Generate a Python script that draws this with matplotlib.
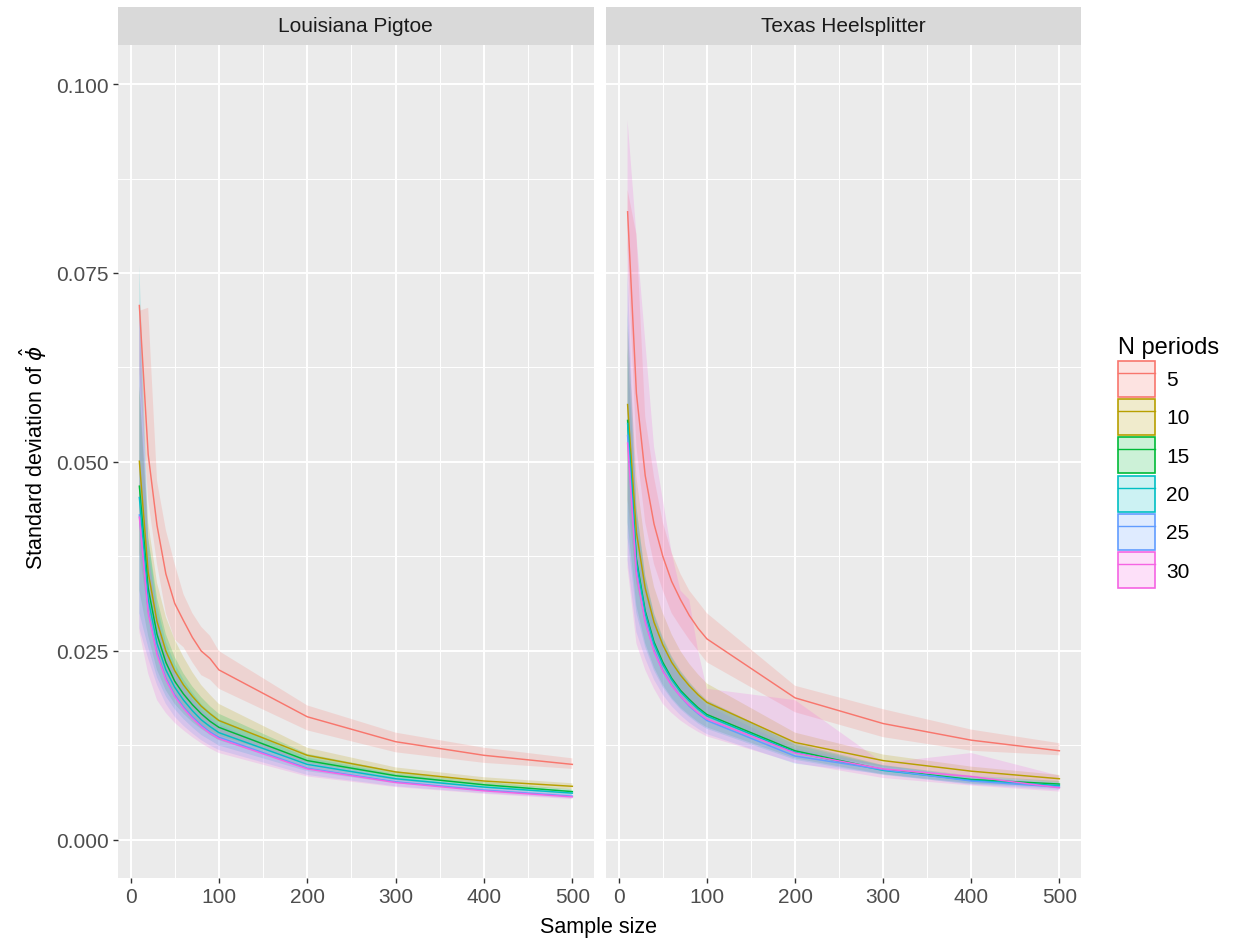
import matplotlib
matplotlib.use("Agg")
import matplotlib.pyplot as plt
from matplotlib.patches import Patch
from matplotlib.lines import Line2D
from matplotlib.ticker import FixedLocator
from matplotlib.colors import to_rgba

plt.rcParams['font.family'] = ['Liberation Sans', 'DejaVu Sans']
plt.rcParams['mathtext.fontset'] = 'dejavusans'

# ---------------- data ----------------
sample_size = [10, 20, 30, 40, 50, 60, 70, 80, 90, 100, 200, 300, 400, 500]
periods = [5, 10, 15, 20, 25, 30]
panels = ["Louisiana Pigtoe", "Texas Heelsplitter"]
colors = ["#F8766D", "#B79F00", "#00BA38", "#00BFC4", "#619CFF", "#F564E3"]

# Louisiana Pigtoe
lp_mean = {
    5:  [0.0707, 0.0510, 0.0416, 0.0352, 0.0313, 0.0290, 0.0268, 0.0250, 0.0240, 0.0225, 0.0163, 0.0130, 0.0112, 0.0100],
    10: [0.0501, 0.0354, 0.0289, 0.0250, 0.0224, 0.0205, 0.0190, 0.0177, 0.0167, 0.0158, 0.0112, 0.0090, 0.0078, 0.0071],
    15: [0.0468, 0.0333, 0.0272, 0.0235, 0.0210, 0.0193, 0.0179, 0.0167, 0.0157, 0.0149, 0.0105, 0.0085, 0.0073, 0.0064],
    20: [0.0453, 0.0319, 0.0260, 0.0225, 0.0202, 0.0185, 0.0171, 0.0159, 0.0150, 0.0142, 0.0100, 0.0081, 0.0070, 0.0062],
    25: [0.0430, 0.0303, 0.0248, 0.0214, 0.0192, 0.0176, 0.0163, 0.0152, 0.0143, 0.0136, 0.0095, 0.0077, 0.0066, 0.0058],
    30: [0.0427, 0.0300, 0.0245, 0.0212, 0.0190, 0.0174, 0.0161, 0.0150, 0.0141, 0.0134, 0.0094, 0.0076, 0.0065, 0.0057],
}
lp_lo = {
    5:  [0.0620, 0.0450, 0.0365, 0.0300, 0.0265, 0.0255, 0.0235, 0.0218, 0.0212, 0.0200, 0.0145, 0.0116, 0.0102, 0.0094],
    10: [0.0380, 0.0300, 0.0245, 0.0212, 0.0190, 0.0175, 0.0163, 0.0153, 0.0145, 0.0138, 0.0102, 0.0084, 0.0073, 0.0067],
    15: [0.0330, 0.0270, 0.0225, 0.0198, 0.0180, 0.0167, 0.0156, 0.0147, 0.0139, 0.0132, 0.0096, 0.0079, 0.0069, 0.0061],
    20: [0.0300, 0.0255, 0.0215, 0.0190, 0.0173, 0.0160, 0.0149, 0.0139, 0.0132, 0.0125, 0.0091, 0.0075, 0.0066, 0.0059],
    25: [0.0280, 0.0240, 0.0205, 0.0180, 0.0163, 0.0151, 0.0141, 0.0132, 0.0125, 0.0119, 0.0086, 0.0071, 0.0062, 0.0055],
    30: [0.0275, 0.0220, 0.0185, 0.0168, 0.0155, 0.0145, 0.0136, 0.0128, 0.0121, 0.0115, 0.0084, 0.0070, 0.0061, 0.0054],
}
lp_hi = {
    5:  [0.0700, 0.0704, 0.0475, 0.0410, 0.0365, 0.0325, 0.0300, 0.0282, 0.0270, 0.0250, 0.0178, 0.0142, 0.0122, 0.0108],
    10: [0.0600, 0.0420, 0.0340, 0.0295, 0.0265, 0.0242, 0.0222, 0.0205, 0.0192, 0.0180, 0.0122, 0.0096, 0.0083, 0.0075],
    15: [0.0600, 0.0400, 0.0320, 0.0272, 0.0242, 0.0220, 0.0203, 0.0189, 0.0177, 0.0167, 0.0114, 0.0091, 0.0077, 0.0067],
    20: [0.0761, 0.0400, 0.0310, 0.0262, 0.0233, 0.0212, 0.0195, 0.0180, 0.0169, 0.0160, 0.0109, 0.0087, 0.0074, 0.0065],
    25: [0.0700, 0.0385, 0.0300, 0.0252, 0.0224, 0.0203, 0.0187, 0.0173, 0.0162, 0.0153, 0.0104, 0.0083, 0.0070, 0.0061],
    30: [0.0710, 0.0380, 0.0298, 0.0250, 0.0222, 0.0201, 0.0185, 0.0171, 0.0160, 0.0151, 0.0103, 0.0082, 0.0069, 0.0060],
}

# Texas Heelsplitter
th_mean = {
    5:  [0.0831, 0.0591, 0.0482, 0.0418, 0.0375, 0.0342, 0.0318, 0.0297, 0.0280, 0.0266, 0.0188, 0.0154, 0.0132, 0.0118],
    10: [0.0576, 0.0407, 0.0333, 0.0288, 0.0258, 0.0235, 0.0218, 0.0204, 0.0192, 0.0182, 0.0129, 0.0105, 0.0091, 0.0081],
    15: [0.0555, 0.0372, 0.0303, 0.0262, 0.0235, 0.0214, 0.0198, 0.0186, 0.0175, 0.0166, 0.0118, 0.0093, 0.0080, 0.0074],
    20: [0.0551, 0.0368, 0.0300, 0.0259, 0.0232, 0.0212, 0.0196, 0.0184, 0.0173, 0.0164, 0.0116, 0.0092, 0.0079, 0.0072],
    25: [0.0535, 0.0355, 0.0290, 0.0251, 0.0224, 0.0205, 0.0190, 0.0177, 0.0167, 0.0158, 0.0111, 0.0093, 0.0078, 0.0070],
    30: [0.0525, 0.0352, 0.0288, 0.0249, 0.0223, 0.0204, 0.0190, 0.0178, 0.0168, 0.0160, 0.0115, 0.0094, 0.0084, 0.0069],
}
th_lo = {
    5:  [0.0780, 0.0520, 0.0420, 0.0365, 0.0330, 0.0300, 0.0282, 0.0265, 0.0250, 0.0235, 0.0169, 0.0136, 0.0118, 0.0112],
    10: [0.0450, 0.0340, 0.0285, 0.0250, 0.0225, 0.0206, 0.0192, 0.0180, 0.0170, 0.0162, 0.0117, 0.0097, 0.0085, 0.0076],
    15: [0.0420, 0.0310, 0.0260, 0.0228, 0.0205, 0.0188, 0.0175, 0.0165, 0.0156, 0.0149, 0.0108, 0.0087, 0.0075, 0.0070],
    20: [0.0400, 0.0300, 0.0255, 0.0224, 0.0202, 0.0186, 0.0173, 0.0163, 0.0154, 0.0147, 0.0106, 0.0086, 0.0074, 0.0068],
    25: [0.0370, 0.0275, 0.0240, 0.0212, 0.0192, 0.0177, 0.0165, 0.0155, 0.0147, 0.0140, 0.0101, 0.0087, 0.0073, 0.0066],
    30: [0.0360, 0.0260, 0.0225, 0.0200, 0.0180, 0.0168, 0.0158, 0.0150, 0.0143, 0.0137, 0.0102, 0.0082, 0.0072, 0.0064],
}
th_hi = {
    5:  [0.0860, 0.0801, 0.0560, 0.0480, 0.0420, 0.0380, 0.0352, 0.0330, 0.0315, 0.0300, 0.0204, 0.0173, 0.0146, 0.0128],
    10: [0.0680, 0.0480, 0.0390, 0.0335, 0.0300, 0.0272, 0.0250, 0.0233, 0.0219, 0.0207, 0.0142, 0.0113, 0.0097, 0.0086],
    15: [0.0650, 0.0440, 0.0350, 0.0300, 0.0268, 0.0243, 0.0224, 0.0209, 0.0196, 0.0185, 0.0128, 0.0099, 0.0085, 0.0078],
    20: [0.0700, 0.0440, 0.0348, 0.0298, 0.0265, 0.0241, 0.0222, 0.0207, 0.0194, 0.0183, 0.0126, 0.0098, 0.0084, 0.0076],
    25: [0.0750, 0.0430, 0.0340, 0.0290, 0.0257, 0.0234, 0.0216, 0.0201, 0.0189, 0.0178, 0.0121, 0.0099, 0.0083, 0.0074],
    30: [0.0952, 0.0800, 0.0660, 0.0520, 0.0450, 0.0380, 0.0330, 0.0318, 0.0250, 0.0200, 0.0185, 0.0102, 0.0115, 0.0085],
}

x_ticks = [0, 100, 200, 300, 400, 500]
y_ticks = [0.000, 0.025, 0.050, 0.075, 0.100]
y_tick_labels = ["0.000", "0.025", "0.050", "0.075", "0.100"]

# ---------------- figure ----------------
W, H = 1235, 945
fig = plt.figure(figsize=(W / 100, H / 100), dpi=100)
fig.patch.set_facecolor("white")

panel_px = [(117.7, 594.0), (606.0, 1081.0)]
top_px, bot_px = 46.0, 879.0
strip_top_px = 7.5

data_sets = [(lp_mean, lp_lo, lp_hi), (th_mean, th_lo, th_hi)]
tick_col = "#4D4D4D"

for i, (name, (mean_d, lo_d, hi_d)) in enumerate(zip(panels, data_sets)):
    x0, x1 = panel_px[i]
    ax = fig.add_axes([x0 / W, 1 - bot_px / H, (x1 - x0) / W, (bot_px - top_px) / H])
    ax.set_facecolor("#EBEBEB")
    for s in ax.spines.values():
        s.set_visible(False)
    ax.set_xlim(-14.5, 524.5)
    ax.set_ylim(-0.00503, 0.10516)
    ax.xaxis.set_major_locator(FixedLocator(x_ticks))
    ax.xaxis.set_minor_locator(FixedLocator([50, 150, 250, 350, 450]))
    ax.yaxis.set_major_locator(FixedLocator(y_ticks))
    ax.yaxis.set_minor_locator(FixedLocator([0.0125, 0.0375, 0.0625, 0.0875]))
    ax.grid(which="major", color="white", linewidth=1.4)
    ax.grid(which="minor", color="white", linewidth=0.7)
    ax.set_axisbelow(True)
    ax.tick_params(which="minor", length=0)
    ax.tick_params(which="major", length=3.5, width=1.0, color="#333333",
                   labelcolor=tick_col, labelsize=15, pad=3)
    ax.set_xticklabels([str(v) for v in x_ticks])
    if i == 0:
        ax.set_yticklabels(y_tick_labels)
    else:
        ax.tick_params(axis="y", labelleft=False, length=0)

    for p, c in zip(periods, colors):
        ax.fill_between(sample_size, lo_d[p], hi_d[p], facecolor=c, alpha=0.2,
                        linewidth=0, zorder=2)
    for p, c in zip(periods, colors):
        ax.plot(sample_size, mean_d[p], color=c, linewidth=1.05, zorder=3)

    # strip
    sax = fig.add_axes([x0 / W, 1 - top_px / H, (x1 - x0) / W, (top_px - strip_top_px) / H])
    sax.set_facecolor("#D9D9D9")
    sax.set_xticks([])
    sax.set_yticks([])
    for s in sax.spines.values():
        s.set_visible(False)
    sax.text(0.5, 0.5, name, ha="center", va="center", fontsize=15,
             color="#1A1A1A", transform=sax.transAxes)

fig.text(599 / W, 1 - 928 / H, "Sample size", ha="center", va="center",
         fontsize=15.5, color="black")
fig.text(33 / W, 1 - 458 / H, r"Standard deviation of $\hat{\phi}$", ha="center",
         va="center", rotation=90, fontsize=15.5, color="black")

handles = []
for c in colors:
    patch = Patch(facecolor=to_rgba(c, 0.2), edgecolor=c, linewidth=1.2)
    line = Line2D([], [], color=c, linewidth=1.0)
    handles.append((patch, line))

leg = fig.legend(handles, [str(p) for p in periods], title="N periods",
                 loc="upper left", bbox_to_anchor=(1108 / W, 1 - 327 / H),
                 frameon=False, fontsize=15, title_fontsize=17,
                 handlelength=1.75, handleheight=2.3, labelspacing=0.1,
                 handletextpad=0.55, borderpad=0.0, alignment="left")

fig.savefig("out.png", dpi=100)
